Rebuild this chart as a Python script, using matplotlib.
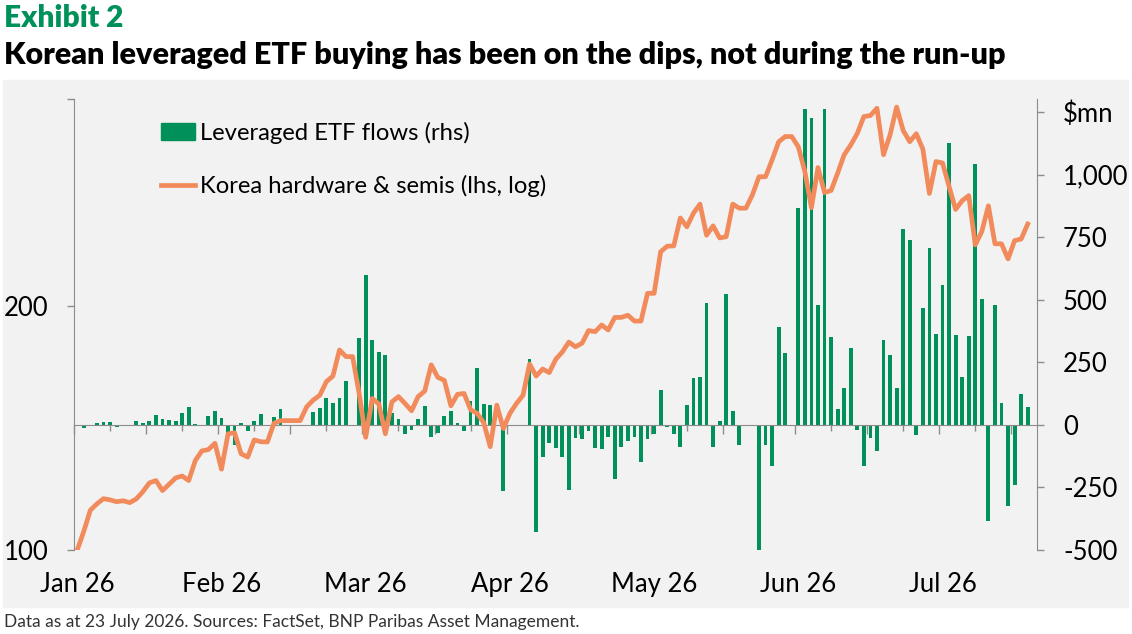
import numpy as np
import matplotlib.pyplot as plt
from matplotlib.patches import Rectangle, Patch
from matplotlib.lines import Line2D

plt.rcParams['font.family'] = ['Lato', 'DejaVu Sans']

# daily leveraged ETF flows, $mn (rhs)
flows = [0, -11, -3, 8, 12, 12, -10, -3, -3, 16, 8, 16, 40, 24, 20, 16, 48, 72, 5, 0,
         36, 56, 28, -36, -79, 8, -24, 16, 44, 0, 32, 64, 0, 0, 0, 0, 52, 68, 108, 88,
         108, 177, 0, 348, 600, 340, 292, 280, 48, 24, -35, -19, 24, 76, -47, -31, 36, 56, 8, -23,
         95, 227, 82, 80, 0, -266, 0, 0, 0, 263, -428, -129, -71, -91, -129, -262, -51, -55, -23, -91,
         -95, -47, -218, -87, -63, -47, -150, -55, -35, 140, -7, -37, -89, 81, 189, 193, 488, -89, 17, 524,
         57, -81, 0, 0, -500, -79, -166, 393, 289, 0, 868, 1262, 1226, 477, 1262, 353, 65, 149, 309, -21,
         -166, -53, -105, 340, 281, 149, 783, 739, -41, 468, 708, 364, 560, 1128, 361, 193, 357, 1044, 504, -384,
         480, 89, -324, -240, 125, 73]

# Korea hardware & semis index, rebased to 100 (lhs, log)
semis = [100, 105.5, 112, 114, 115.7, 115.3, 114.7, 115, 114.4, 115.6, 118, 121, 121.8, 118.4, 120.5, 122.7, 123.4, 121.8, 128.9, 132.5,
         133, 135.4, 125.8, 139.1, 139.5, 131.4, 130.2, 136.7, 136, 135.9, 143.3, 144.4, 144.4, 144.4, 144.4, 150.2, 153.1, 155.2, 161.3, 163.9,
         176.5, 173.2, 173.2, 156, 137.7, 153.8, 151.4, 139.1, 152.3, 154.6, 151.6, 148.5, 154.6, 157, 169.2, 163.3, 161.9, 150.6, 155.6, 156,
         149, 147.4, 143.6, 134.1, 150.9, 141.2, 147.4, 151.6, 155.2, 169.6, 163.9, 167.2, 165.5, 171.9, 175.5, 180.5, 178.1, 179.9, 186.5, 185.9,
         189.5, 186.8, 193.6, 193.6, 194.8, 191.6, 191.6, 207.3, 207.3, 233.3, 237, 237.2, 256.8, 250.4, 260.3, 267.1, 244.5, 251.1, 242.6, 243.5,
         267.1, 264, 264, 274.2, 288.7, 288.7, 302.8, 318.7, 323.6, 323.6, 314.3, 292.9, 264.4, 296.3, 276, 277.6, 291.6, 307.3, 315.9, 326.5,
         342.5, 343.5, 350.7, 307.3, 325.2, 351.8, 329.2, 318.9, 326.2, 312.2, 275.3, 301.4, 300.2, 280.8, 263.1, 269.7, 273.6, 237.9, 247.2, 265.8,
         238.6, 238.6, 228.6, 240.8, 241.9, 252.4]

month_labels = ['Jan 26', 'Feb 26', 'Mar 26', 'Apr 26', 'May 26', 'Jun 26', 'Jul 26']
month_pos = [0, 22, 44, 66, 88, 110, 132]

rhs_ticks = [-500, -250, 0, 250, 500, 750, 1000, 1250]
rhs_labels = ['-500', '-250', '0', '250', '500', '750', '1,000', '$mn']

green = '#00915A'
orange = '#F28B5B'
axis_grey = '#8c8c8c'
tick_size = 18.5

W, H = 1132, 634
fig = plt.figure(figsize=(W / 100, H / 100), dpi=100)
fig.patches.append(Rectangle((3 / W, 1 - 607 / H), 1125 / W, 527 / H,
                             transform=fig.transFigure, color='#f2f2f2', zorder=-5))

x = np.arange(len(flows))

ax = fig.add_axes([74 / W, 84 / H, 963.3 / W, 451 / H])
ax.set_facecolor('none')
ax.bar(x, flows, width=0.58, color=green, zorder=2)
ax.set_xlim(-0.41, 146.46)
ax.set_ylim(-500, 1302)

ax2 = ax.twinx()
ax2.plot(x, semis, color=orange, lw=3.4, zorder=3)
ax2.set_yscale('log')
ax2.set_ylim(100, 360)

# swap sides: bars on the right scale, line on the left scale
ax.yaxis.tick_right()
ax.set_yticks(rhs_ticks, rhs_labels)
ax.tick_params(axis='y', direction='out', length=5, width=1, color=axis_grey,
               labelsize=tick_size, pad=13.5)

ax2.yaxis.tick_left()
ax2.set_yticks([100, 200, 360], ['100', '200', ''])
ax2.minorticks_off()
ax2.tick_params(axis='y', direction='out', length=5, width=1, color=axis_grey,
                labelsize=tick_size, pad=13.5)

for s in ['top', 'left']:
    ax.spines[s].set_visible(False)
ax.spines['right'].set_color(axis_grey)
ax.spines['bottom'].set_position(('data', 0))
ax.spines['bottom'].set_color(axis_grey)
for s in ['top', 'right', 'bottom']:
    ax2.spines[s].set_visible(False)
ax2.spines['left'].set_color(axis_grey)

# week ticks on the zero line
ax.set_xticks(np.arange(-0.5, 147, 11))
ax.set_xticks(np.arange(5, 147, 11), minor=True)
ax.tick_params(axis='x', which='major', direction='out', length=6.3, width=1,
               color=axis_grey, labelbottom=False)
ax.tick_params(axis='x', which='minor', direction='out', length=4.3, width=1,
               color=axis_grey, labelbottom=False)

sec = ax.secondary_xaxis('bottom')
sec.set_xticks(month_pos, month_labels)
sec.tick_params(length=0, pad=15.8, labelsize=tick_size)
sec.spines['bottom'].set_visible(False)

handles = [Patch(color=green), Line2D([], [], color=orange, lw=3.4)]
ax2.legend(handles, ['Leveraged ETF flows (rhs)', 'Korea hardware & semis (lhs, log)'],
           loc='upper left', bbox_to_anchor=(161 / W, 1 - 122 / H), bbox_transform=fig.transFigure,
           frameon=False, fontsize=17.2, borderaxespad=0, borderpad=0,
           handlelength=1.43, handleheight=0.7, handletextpad=0.2, labelspacing=1.3)

fig.text(4 / W, 1 - 27 / H, 'Exhibit 2', color=green, fontsize=21.5,
         fontweight='heavy', va='baseline')
fig.text(4 / W, 1 - 64 / H, 'Korean leveraged ETF buying has been on the dips, not during the run-up',
         color='black', fontsize=22, fontweight='heavy', va='baseline')
fig.text(4 / W, 1 - 627 / H, 'Data as at 23 July 2026. Sources: FactSet, BNP Paribas Asset Management.',
         color='#333333', fontsize=12.5, va='baseline')

fig.savefig('out.png', dpi=100)
